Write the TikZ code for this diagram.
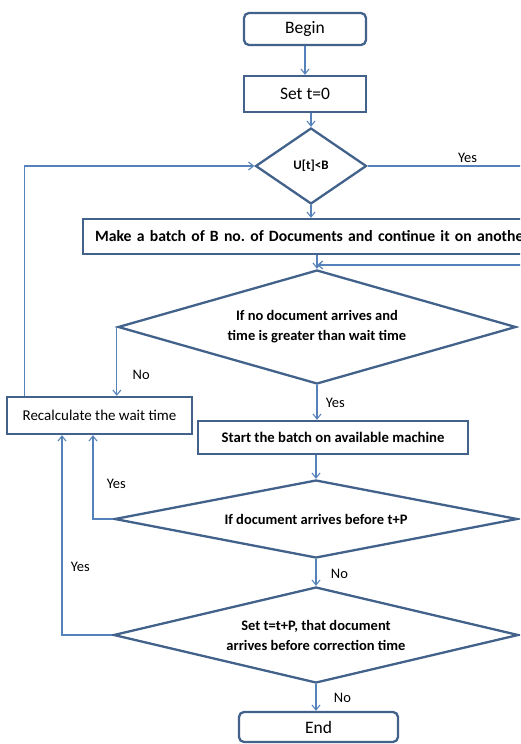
\documentclass[tikz,border=0pt]{standalone}
\usepackage{fontspec}
\setmainfont{Carlito}
\frenchspacing
\usetikzlibrary{positioning,shapes.geometric,arrows.meta}
\definecolor{boxblue}{RGB}{66,98,140}
\definecolor{lineblue}{RGB}{86,130,188}

\begin{document}
\begin{tikzpicture}[x=1pt, y=-1pt,
    box/.style={draw=boxblue, line width=2.3pt, fill=white, inner sep=0pt},
    term/.style={box, rounded corners=5pt, font=\fontsize{17.5}{20}\selectfont},
    proc/.style={box, font=\fontsize{15}{17}\selectfont},
    bproc/.style={box, font=\fontsize{14.7}{17}\selectfont\bfseries},
    test/.style={box, diamond, aspect=3, align=center, font=\fontsize{14.5}{20}\selectfont\bfseries},
    arr/.style={draw=lineblue, line width=1.1pt, -{Straight Barb[length=5pt,width=8pt]}},
    lbl/.style={font=\fontsize{14.5}{17}\selectfont}]

\useasboundingbox (0,0) rectangle (520,744);
\clip (0,0) rectangle (520,744);

% boxes
\node[term, minimum width=122pt, minimum height=32pt] (begin) at (305,29) {Begin};
\node[proc, font=\fontsize{17.5}{20}\selectfont, minimum width=122pt, minimum height=36pt] (sett) at (305,94) {Set t=0};
\node[test, minimum width=111pt, minimum height=76pt, font=\fontsize{13}{15}\selectfont\bfseries] (ut) at (311,166) {U[t]<B};
\node[bproc, anchor=west, minimum height=35pt, text width=500pt, align=left, inner xsep=12pt,
      font=\fontsize{15.7}{19}\selectfont\bfseries] (batch) at (82,236.5)
      {Make a batch of B no. of Documents and continue it on another};
\coordinate (junc) at (317,265);
\node[test, minimum width=398pt, minimum height=114pt] (waitq) at (317,327) {If no document arrives and\\time is greater than wait time};
\node[proc, minimum width=185pt, minimum height=37pt] (recalc) at (99.5,415.5) {Recalculate the wait time};
\node[bproc, minimum width=270pt, minimum height=33pt] (start) at (333,437.5) {Start the batch on available machine};
\node[test, minimum width=403pt, minimum height=78pt] (arriveq) at (316,519) {If document arrives before t+P};
\node[test, minimum width=405pt, minimum height=96pt] (setq) at (316,635) {Set t=t+P, that document\\arrives before correction time};
\node[term, minimum width=159pt, minimum height=30pt] (end) at (318.5,727) {End};

% connectors
\draw[arr] (begin) -- (sett);
\draw[arr] (ut.north |- sett.south) -- (ut.north);
\draw[arr] (ut.south) -- (ut.south |- batch.north);
\draw[arr] (ut.east) -- node[lbl, above, pos=0.5] {Yes} ++(200,0) |- (junc);
\draw[arr] (junc |- batch.south) -- (waitq.north);
\draw[arr] (waitq.west) -- node[lbl, right=12pt, pos=0.69] {No} (waitq.west |- recalc.north);
\draw[arr] (waitq.south) -- node[lbl, right=5pt, pos=0.5] {Yes} (start.north -| waitq.south);
\draw[arr] (start.south -| arriveq.north) -- (arriveq.north);
\draw[arr] (arriveq.west) -| node[lbl, right=10pt, pos=0.71] {Yes} ([xshift=-6.5pt]recalc.south);
\draw[arr] (arriveq.south) -- node[lbl, right=11pt, pos=0.55] {No} (setq.north);
\draw[arr] (setq.west) -| node[lbl, right=5pt, pos=0.67] {Yes} ([xshift=-37.5pt]recalc.south);
\draw[arr] (setq.south) -- node[lbl, right=14pt, pos=0.5] {No} (end.north -| setq.south);
\draw[arr] ([xshift=19pt]recalc.north west) |- (ut.west);

\end{tikzpicture}
\end{document}
